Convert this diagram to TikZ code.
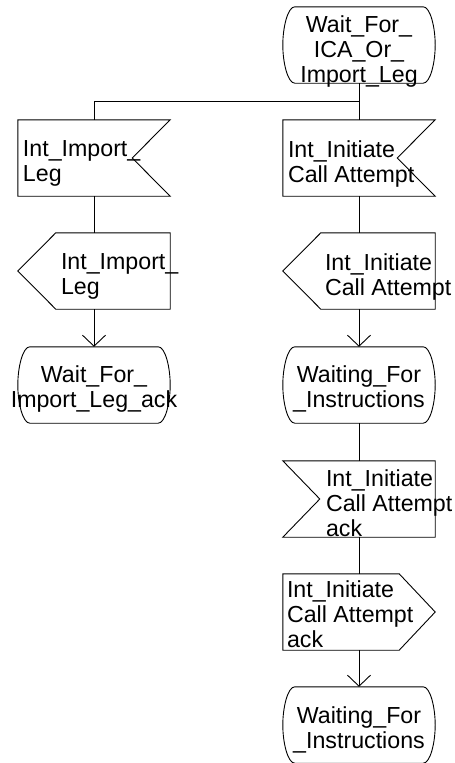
\documentclass[tikz,border=0pt]{standalone}
\usepackage{fontspec}
\setmainfont{Liberation Sans}
\usetikzlibrary{arrows.meta, positioning, calc}
\tikzset{
  font=\fontsize{23.2}{25}\selectfont,   % Arial-like text everywhere
  symbox/.style  = {rectangle, minimum width=152pt, minimum height=76pt, inner sep=0pt},
  txt/.style     = {inner sep=0pt, align=left, anchor=north west},
  ctxt/.style    = {inner sep=0pt, align=center, anchor=north},
  outline/.style = {line width=0.9pt, line join=miter},
  flow/.style    = {line width=0.9pt, -{Straight Barb[length=11pt, width=23pt]}}
}
\begin{document}
\begin{tikzpicture}[x=1pt, y=-1pt]
  \useasboundingbox (0,0) rectangle (455,763);
  % states, inputs and outputs
  \node[symbox] (s0)   at (359,45)  {};
  \node[symbox] (in1)  at (94,158)  {};
  \node[symbox] (in2)  at (359,158) {};
  \node[symbox] (out1) at (94,271)  {};
  \node[symbox] (out2) at (359,271) {};
  \node[symbox] (s1)   at (94,385)  {};
  \node[symbox] (s2)   at (359,385) {};
  \node[symbox] (in3)  at (359,499) {};
  \node[symbox] (out3) at (359,612) {};
  \node[symbox] (s3)   at (359,725) {};
  % state outlines
  \foreach \n in {s0,s1,s2,s3} {
    \draw[outline] ([xshift=12pt]\n.north west) -- ([xshift=-12pt]\n.north east)
      .. controls +(7,0) and +(0,-18) .. (\n.east)
      .. controls +(0,18) and +(7,0) .. ([xshift=-12pt]\n.south east)
      -- ([xshift=12pt]\n.south west)
      .. controls +(-7,0) and +(0,18) .. (\n.west)
      .. controls +(0,-18) and +(-7,0) .. ([xshift=12pt]\n.north west) -- cycle;
  }
  % inputs, notch on the right
  \foreach \n in {in1,in2} {
    \draw[outline] (\n.north west) -- (\n.north east) -- ([xshift=-38pt]\n.east)
      -- (\n.south east) -- (\n.south west) -- cycle;
  }
  % input, notch on the left
  \draw[outline] (in3.north west) -- (in3.north east) -- (in3.south east)
    -- (in3.south west) -- ([xshift=37pt]in3.west) -- cycle;
  % outputs pointing left
  \foreach \n in {out1,out2} {
    \draw[outline] ([xshift=38pt]\n.north west) -- (\n.north east) -- (\n.south east)
      -- ([xshift=38pt]\n.south west) -- (\n.west) -- cycle;
  }
  % output pointing right
  \draw[outline] (out3.north west) -- ([xshift=-36pt]out3.north east) -- (out3.east)
    -- ([xshift=-36pt]out3.south east) -- (out3.south west) -- cycle;
  % texts
  \node[ctxt] (s0t) at ([yshift=-9pt]s0.north) {Wait\_For\_\\ICA\_Or\_\\Import\_Leg};
  \node[txt] (in1t) at ([xshift=5pt, yshift=-21pt]in1.north west) {Int\_Import\_\\Leg};
  \node[txt] (in2t) at ([xshift=5pt, yshift=-21pt]in2.north west) {Int\_Initiate\\Call Attempt};
  \node[txt] (out1t) at ([xshift=43pt, yshift=-21pt]out1.north west) {Int\_Import\_\\Leg};
  \node[txt] (out2t) at ([xshift=42pt, yshift=-21pt]out2.north west) {Int\_Initiate\\Call Attempt};
  \node[ctxt] (s1t) at ([yshift=-19pt]s1.north) {Wait\_For\_\\Import\_Leg\_ack};
  \node[ctxt] (s2t) at ([yshift=-19pt]s2.north) {Waiting\_For\\\_Instructions};
  \node[txt] (in3t) at ([xshift=43pt, yshift=-9pt]in3.north west) {Int\_Initiate\\Call Attempt\\ack};
  \node[txt] (out3t) at ([xshift=4pt, yshift=-7pt]out3.north west) {Int\_Initiate\\Call Attempt\\ack};
  \node[ctxt] (s3t) at ([yshift=-20pt]s3.north) {Waiting\_For\\\_Instructions};
  % connectors
  \coordinate (fork) at ($(s0.south)+(0,18)$);
  \draw[outline] (s0) -- (in2);
  \draw[outline] (fork) -| (in1.north);
  \draw[outline] (in1) -- (out1);
  \draw[outline] (in2) -- (out2);
  \draw[flow] (out1) -- (s1);
  \draw[flow] (out2) -- (s2);
  \draw[outline] (s2) -- (in3);
  \draw[outline] (in3) -- (out3);
  \draw[flow] (out3) -- (s3);
\end{tikzpicture}
\end{document}
